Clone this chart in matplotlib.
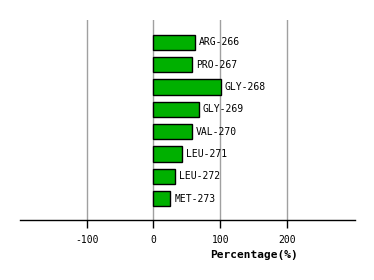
import matplotlib

matplotlib.use("Agg")
import matplotlib.pyplot as plt

residues = ["ARG-266", "PRO-267", "GLY-268", "GLY-269",
            "VAL-270", "LEU-271", "LEU-272", "MET-273"]
percent = [62, 58, 101, 68, 58, 43, 32, 25]
xticks = [-100, 0, 100, 200]

fig = plt.figure(figsize=(3.74, 2.80), dpi=100)
ax = fig.add_axes([20 / 374, 60 / 280, 335 / 374, 200 / 280])

ypos = list(range(len(residues)))
ax.barh(ypos, percent, height=0.69, color="#00b000", edgecolor="black",
        linewidth=1.0, zorder=3)
for y, v, name in zip(ypos, percent, residues):
    ax.text(v + 6, y, name, va="center", ha="left", fontsize=7,
            family="DejaVu Sans Mono", zorder=4)

ax.set_xlim(-200, 302)
ax.set_ylim(7.95, -1.0)
ax.set_xticks(xticks)
ax.set_xticklabels([str(t) for t in xticks], family="DejaVu Sans Mono",
                   fontsize=7)
ax.set_yticks([])
for t in xticks:
    ax.axvline(t, color="#a0a0a0", lw=1.0, zorder=1)
for s in ("top", "left", "right"):
    ax.spines[s].set_visible(False)
ax.spines["bottom"].set_linewidth(1.0)
ax.tick_params(axis="x", length=6, width=1.0, pad=5)
ax.set_xlabel("Percentage(%)", family="DejaVu Sans Mono", fontsize=8,
              fontweight="bold")
ax.xaxis.set_label_coords(0.70, -0.15)

fig.savefig("out.png", dpi=100)
